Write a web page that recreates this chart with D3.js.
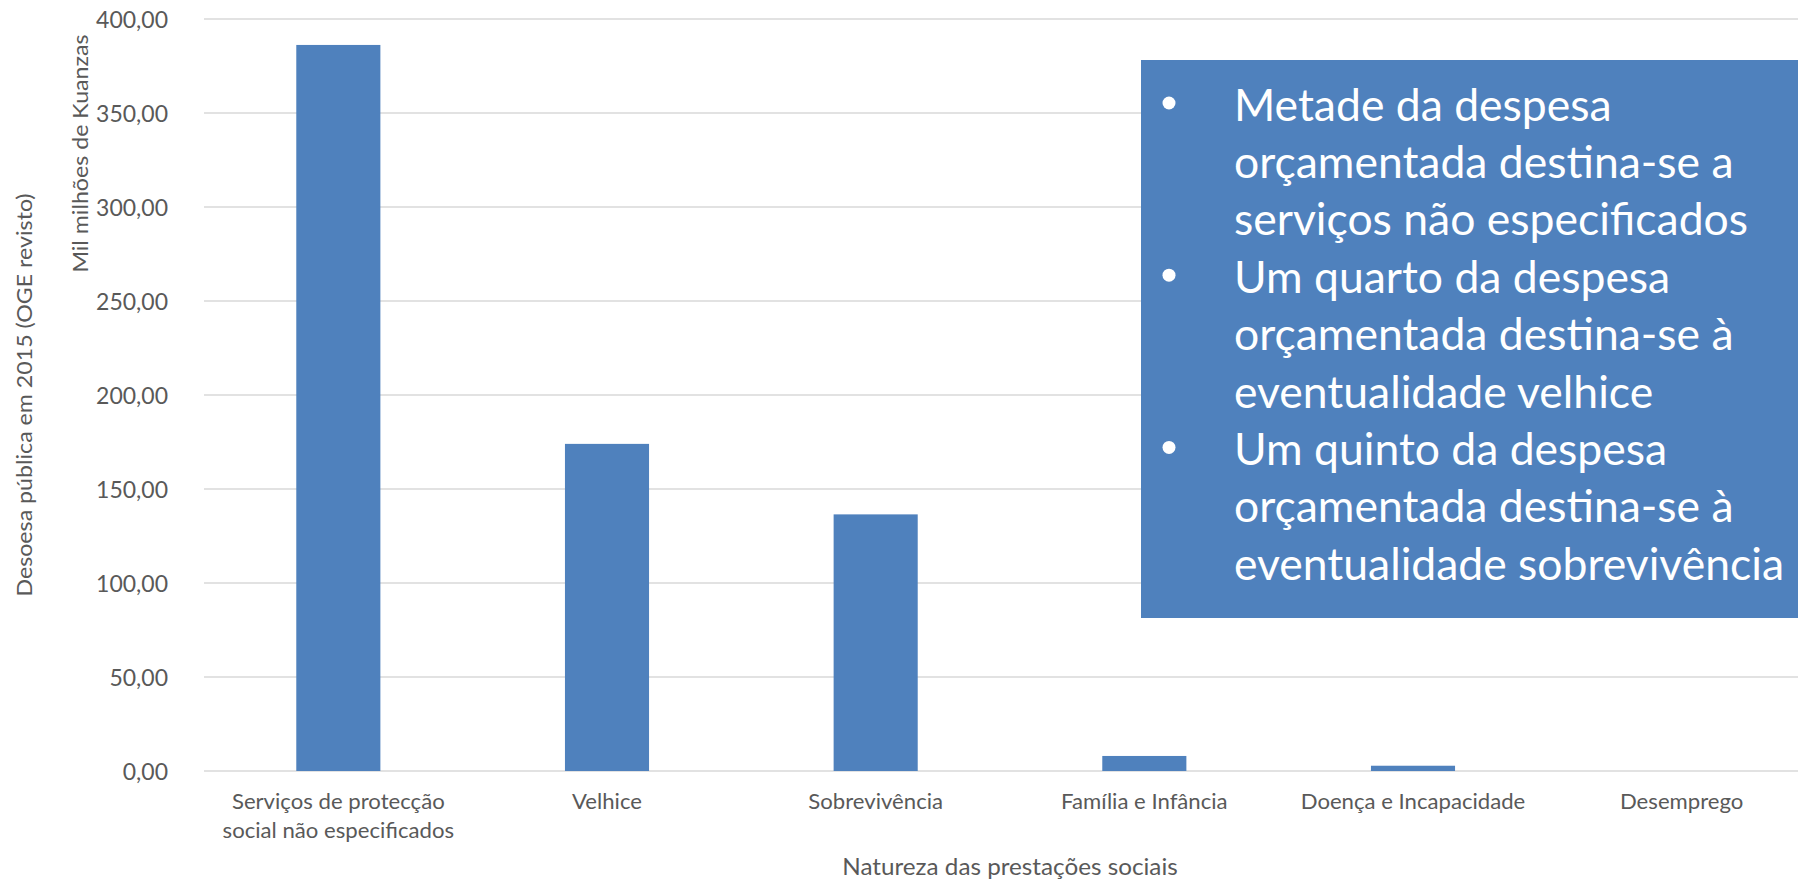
<!DOCTYPE html>
<html>
<head>
<meta charset="utf-8">
<script src="https://cdn.jsdelivr.net/npm/d3@7"></script>
<style>
  body { margin: 0; background: #fff; }
  svg { display: block; }
  text { font-family: Lato, "Open Sans", sans-serif; }
</style>
</head>
<body>
<div id="chart"></div>
<script>
// data
var categories = [
  ['Serviços de protecção', 'social não especificados'],
  ['Velhice'],
  ['Sobrevivência'],
  ['Família e Infância'],
  ['Doença e Incapacidade'],
  ['Desemprego']
];
var values = [386.2, 174.0, 136.5, 8.0, 2.8, 0];
var yTicks = [0, 50, 100, 150, 200, 250, 300, 350, 400];
var notes = [
  ['Metade da despesa', 'orçamentada destina-se a', 'serviços não especificados'],
  ['Um quarto da despesa', 'orçamentada destina-se à', 'eventualidade velhice'],
  ['Um quinto da despesa', 'orçamentada destina-se à', 'eventualidade sobrevivência']
];

(function() {
  var W = 1798, H = 883;
  var left = 204, right = 1816, top = 19, bottom = 771;
  var grey = '#595959', blue = '#4F81BD';

  var svg = d3.select('#chart').append('svg')
    .attr('width', W).attr('height', H);

  var x = d3.scaleBand()
    .domain(d3.range(categories.length))
    .range([left, right])
    .paddingInner(0.687).paddingOuter(0.3435);

  var y = d3.scaleLinear().domain([0, 400]).range([bottom, top]);

  var pt = d3.formatLocale({ decimal: ',', thousands: '.', grouping: [3], currency: ['', ''] });
  var fmt = pt.format('.2f');

  // gridlines
  svg.append('g').selectAll('line').data(yTicks).enter().append('line')
    .attr('x1', left).attr('x2', right)
    .attr('y1', function(d) { return y(d); })
    .attr('y2', function(d) { return y(d); })
    .attr('stroke', '#D9D9D9').attr('stroke-width', 1.5);

  // y axis labels
  var yAxis = svg.append('g')
    .attr('transform', 'translate(' + (left - 36) + ',0)')
    .call(d3.axisLeft(y).tickValues(yTicks).tickFormat(fmt).tickSize(0).tickPadding(0));
  yAxis.select('.domain').remove();
  yAxis.selectAll('text')
    .attr('fill', grey).style('font-size', '23px').attr('dy', '0.36em')
    .style('font-family', 'Lato, sans-serif');

  // bars
  svg.append('g').selectAll('rect').data(values).enter().append('rect')
    .attr('x', function(d, i) { return x(i); })
    .attr('width', x.bandwidth())
    .attr('y', function(d) { return y(d); })
    .attr('height', function(d) { return y(0) - y(d); })
    .attr('fill', blue);

  // category labels
  var cat = svg.append('g').selectAll('text').data(categories).enter().append('text')
    .attr('class', 'cond')
    .attr('text-anchor', 'middle')
    .attr('fill', grey).style('font-size', '21px')
    .attr('x', function(d, i) { return x(i) + x.bandwidth() / 2; })
    .attr('y', 809);
  cat.each(function(d) {
    var t = d3.select(this);
    d.forEach(function(line, k) {
      t.append('tspan').attr('x', t.attr('x')).attr('dy', k === 0 ? 0 : 29).text(line);
    });
  });

  // axis titles
  svg.append('text').attr('class', 'cond')
    .attr('x', (left + right) / 2).attr('y', 875)
    .attr('text-anchor', 'middle').attr('fill', grey).style('font-size', '23px')
    .text('Natureza das prestações sociais');

  svg.append('text').attr('class', 'cond')
    .attr('transform', 'translate(32,' + ((top + bottom) / 2) + ') rotate(-90)')
    .attr('text-anchor', 'middle').attr('fill', grey).style('font-size', '22px')
    .text('Desoesa pública em 2015 (OGE revisto)');

  svg.append('text').attr('class', 'cond')
    .attr('transform', 'translate(88,153.5) rotate(-90)')
    .attr('text-anchor', 'middle').attr('fill', grey).style('font-size', '22px')
    .text('Mil milhões de Kuanzas');

  // callout box
  var box = svg.append('g');
  box.append('rect')
    .attr('x', 1141).attr('y', 60).attr('width', 700).attr('height', 558)
    .attr('fill', blue);

  var lineH = 57.4, first = 120.5, n = 0;
  notes.forEach(function(group) {
    group.forEach(function(line, k) {
      var yy = first + n * lineH;
      if (k === 0) {
        // bullet dot
        box.append('circle').attr('cx', 1169).attr('cy', yy - 17.5).attr('r', 6.5)
          .attr('fill', '#fff');
      }
      box.append('text').attr('class', 'note')
        .attr('x', 1234).attr('y', yy)
        .attr('fill', '#fff').style('font-size', '45px')
        .text(line);
      n++;
    });
  });

  // squeeze the wider substitute font to Calibri-like widths
  function condense(sel, k) {
    sel.each(function() {
      var el = this;
      var parts = el.querySelectorAll('tspan');
      var list = parts.length ? parts : [el];
      list.forEach(function(p) {
        var w = p.getComputedTextLength();
        p.setAttribute('textLength', w * k);
        p.setAttribute('lengthAdjust', 'spacingAndGlyphs');
      });
    });
  }
  var widest = box.selectAll('text.note').filter(function() {
    return this.textContent === 'eventualidade sobrevivência';
  }).node().getComputedTextLength();
  condense(box.selectAll('text.note'), 550 / widest);

  var ref = cat.filter(function(d) { return d.length > 1; }).selectAll('tspan').nodes()[1];
  condense(svg.selectAll('text.cond'), 231.5 / ref.getComputedTextLength());
})();
</script>
</body>
</html>
